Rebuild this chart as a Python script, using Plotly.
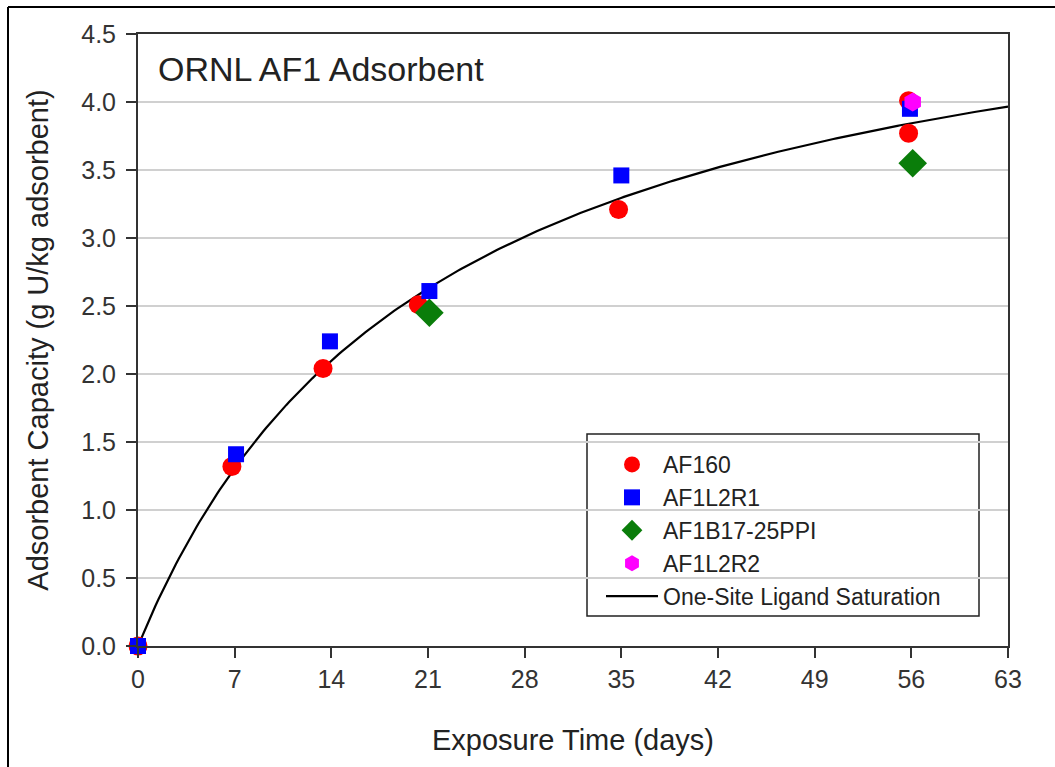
import numpy as np
import plotly.graph_objects as go

# Data
af160_x = [0, 6.8, 13.4, 20.3, 34.8, 55.8, 55.8]
af160_y = [0, 1.32, 2.04, 2.51, 3.21, 4.01, 3.77]
af1l2r1_x = [0, 7.1, 13.9, 21.1, 35.0, 55.9]
af1l2r1_y = [0, 1.41, 2.24, 2.61, 3.46, 3.95]
af1b17_x = [21.1, 56.1]
af1b17_y = [2.45, 3.55]
af1l2r2_x = [56.1]
af1l2r2_y = [4.00]

# One-site ligand saturation fit parameters: y = Bmax * x / (Kd + x)
bmax = 5.32
kd = 21.5
fit_x = np.linspace(0, 63, 300)
fit_y = bmax * fit_x / (kd + fit_x)

x_ticks = [0, 7, 14, 21, 28, 35, 42, 49, 56, 63]
y_ticks = [0.0, 0.5, 1.0, 1.5, 2.0, 2.5, 3.0, 3.5, 4.0, 4.5]

FONT = "Liberation Sans, Arial, sans-serif"
fig = go.Figure()
fig.add_trace(go.Scatter(x=fit_x, y=fit_y, mode="lines", name="One-Site Ligand Saturation",
                         line=dict(color="black", width=2.2), cliponaxis=False, legendrank=5))
fig.add_trace(go.Scatter(x=af160_x, y=af160_y, mode="markers", name="AF160",
                         marker=dict(symbol="circle", size=19, color="#ff0000"), cliponaxis=False, legendrank=1))
fig.add_trace(go.Scatter(x=af1l2r1_x, y=af1l2r1_y, mode="markers", name="AF1L2R1",
                         marker=dict(symbol="square", size=16, color="#0000ff"), cliponaxis=False, legendrank=2))
fig.add_trace(go.Scatter(x=af1b17_x, y=af1b17_y, mode="markers", name="AF1B17-25PPI",
                         marker=dict(symbol="diamond", size=22, color="#0a7d0a"), cliponaxis=False, legendrank=3))
fig.add_trace(go.Scatter(x=af1l2r2_x, y=af1l2r2_y, mode="markers", name="AF1L2R2",
                         marker=dict(symbol="hexagon", size=19, color="#ff00ff"), cliponaxis=False, legendrank=4))

L, R, T, B = 138, 47, 34, 121
W, H = 1055, 767
pw, ph = W - L - R, H - T - B

def px(xp):
    return (xp - L) / pw

def py(yp):
    return (H - B - yp) / ph

fig.update_layout(
    width=W, height=H,
    margin=dict(l=L, r=R, t=T, b=B),
    paper_bgcolor="white", plot_bgcolor="white",
    font=dict(family=FONT, color="#222222", size=24),
    showlegend=True,
    legend=dict(x=px(601), y=py(443), xanchor="left", yanchor="top",
                bgcolor="rgba(0,0,0,0)", borderwidth=0,
                font=dict(size=23, family=FONT, color="#222222"),
                tracegroupgap=0, itemwidth=52),
    shapes=[
        dict(type="rect", xref="paper", yref="paper", x0=px(587), x1=px(979), y0=py(616), y1=py(434),
             line=dict(color="#222222", width=1.5), fillcolor="white", layer="below"),
        dict(type="line", xref="paper", yref="paper", x0=px(8), x1=px(8), y0=py(7), y1=py(800),
             line=dict(color="black", width=2)),
        dict(type="line", xref="paper", yref="paper", x0=px(8), x1=px(1060), y0=py(7), y1=py(7),
             line=dict(color="black", width=2)),
    ],
    annotations=[
        dict(text="ORNL AF1 Adsorbent", xref="paper", yref="paper", x=px(156), y=py(69),
             xanchor="left", yanchor="middle", showarrow=False,
             font=dict(size=34, family=FONT, color="#222222")),
    ],
)
fig.update_xaxes(
    range=[0, 63], tickvals=x_ticks, ticktext=[str(v) for v in x_ticks],
    showgrid=False, zeroline=False,
    showline=True, linecolor="#333333", linewidth=2, mirror=True,
    ticks="outside", ticklen=10, tickwidth=2, tickcolor="#333333",
    tickfont=dict(size=25, family=FONT, color="#333333"),
    title=dict(text="Exposure Time (days)", font=dict(size=29, family=FONT, color="#222222"), standoff=38),
)
fig.update_yaxes(
    range=[0, 4.5], tickvals=y_ticks, ticktext=[f"{v:.1f}" for v in y_ticks],
    showgrid=True, gridcolor="#d0d0d0", gridwidth=2, zeroline=False,
    showline=True, linecolor="#333333", linewidth=2, mirror=True,
    ticks="outside", ticklen=10, tickwidth=2, tickcolor="#333333",
    ticklabelstandoff=5,
    tickfont=dict(size=25, family=FONT, color="#333333"),
    title=dict(text="Adsorbent Capacity (g U/kg adsorbent)", font=dict(size=29, family=FONT, color="#222222"), standoff=24),
)

fig.write_html("out.html")
